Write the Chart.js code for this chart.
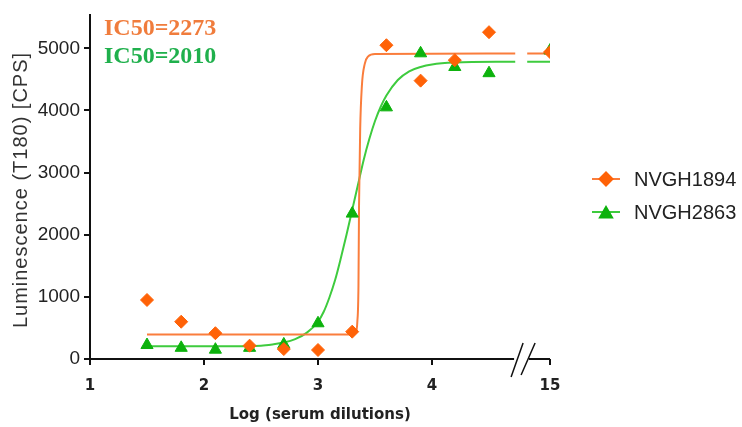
<!DOCTYPE html>
<html>
<head>
<meta charset="utf-8">
<script src="https://cdn.jsdelivr.net/npm/chart.js@4/dist/chart.umd.min.js"></script>
<style>
  html, body { margin: 0; padding: 0; background: #fff; }
  #myChart { display: block; }
</style>
</head>
<body>
<canvas id="myChart" width="742" height="427"></canvas>
<script>
// measured points, x = log(serum dilution); the last one sits past the axis break
var dilutions = [1.5, 1.8, 2.1, 2.4, 2.7, 3.0, 3.3, 3.6, 3.9, 4.2, 4.5, 15];
var nvgh1894 = [950, 600, 415, 215, 160, 145, 440, 5050, 4480, 4810, 5260, 4940];
var nvgh2863 = [225, 180, 150, 180, 235, 575, 2340, 4050, 4920, 4700, 4600, 4965];

// fitted curves (null = axis break)
var fit1894X = [1.5, 3.30, 3.33, 3.345, 3.355, 3.36, 3.37, 3.385, 3.41, 3.44, 3.5, 4.73, 4.78, 14.8, 15];
var fit1894Y = [395, 395, 420, 600, 1200, 2500, 3700, 4400, 4750, 4870, 4910, 4915, null, 4915, 4915];
var fit2863X = [1.5, 2.2, 2.5, 2.6, 2.7, 2.8, 2.9, 3.0, 3.05, 3.1, 3.15, 3.2, 3.25, 3.3, 3.35, 3.4, 3.45,
                3.5, 3.55, 3.6, 3.7, 3.8, 3.9, 4.0, 4.2, 4.73, 4.78, 14.8, 15];
var fit2863Y = [205, 205, 215, 235, 265, 320, 420, 600, 760, 990, 1270, 1620, 2000, 2400, 2800, 3200, 3540,
                3830, 4060, 4240, 4490, 4630, 4700, 4740, 4770, 4785, null, 4785, 4785];

var xTickLabels = ['1', '2', '3', '4', '15'];
var yTicks = [0, 1000, 2000, 3000, 4000, 5000];
var ic50Labels = ['IC50=2273', 'IC50=2010'];
var seriesNames = ['NVGH1894', 'NVGH2863'];

// broken x axis: values past the break are drawn on a short stub ending at 15
var BREAK_END = 5.035;
function toAxis(v) {
    return v > 5 ? BREAK_END - (15 - v) : v;
}
function pts(xs, ys) {
    return xs.map(function (x, i) { return { x: toAxis(x), y: ys[i] }; });
}

var orangeLine = '#fa7d3c', orangeMark = '#ff6207';
var greenLine = '#3ecb3e', greenMark = '#0db20d';

var breakPlugin = {
    id: 'extras',
    afterDraw: function (chart) {
        var ctx = chart.ctx, xs = chart.scales.x, ys = chart.scales.y;
        var y0 = ys.getPixelForValue(0);
        var a = xs.getPixelForValue(4.72), b = xs.getPixelForValue(4.85);
        ctx.save();
        ctx.strokeStyle = '#111';
        ctx.lineWidth = 2;
        ctx.beginPath();
        ctx.moveTo(chart.chartArea.left, y0);
        ctx.lineTo(a, y0);
        ctx.moveTo(b, y0);
        ctx.lineTo(chart.chartArea.right, y0);
        ctx.stroke();
        ctx.lineWidth = 1.5;
        ctx.beginPath();
        ctx.moveTo(a - 3, y0 + 18);
        ctx.lineTo(a + 9, y0 - 16);
        ctx.moveTo(a + 7, y0 + 16);
        ctx.lineTo(a + 21, y0 - 16);
        ctx.stroke();

        // IC50 annotations
        ctx.font = 'bold 24px "Liberation Serif"';
        ctx.textBaseline = 'middle';
        ctx.textAlign = 'left';
        ctx.fillStyle = '#f07c3c';
        ctx.fillText(ic50Labels[0], chart.chartArea.left + 14, 29);
        ctx.fillStyle = '#1fb04c';
        ctx.fillText(ic50Labels[1], chart.chartArea.left + 14, 57);

        // y title
        ctx.save();
        ctx.translate(21, 190);
        ctx.rotate(-Math.PI / 2);
        ctx.font = '20px "Liberation Sans"';
        ctx.letterSpacing = '1px';
        ctx.fillStyle = '#333';
        ctx.textAlign = 'center';
        ctx.fillText('Luminescence (T180) [CPS]', 0, 0);
        ctx.restore();

        // legend
        var lx = chart.chartArea.right + 42;
        var cols = [[orangeLine, orangeMark, 'rectRot', 6.5], [greenLine, greenMark, 'triangle', 7]];
        for (var i = 0; i < 2; i++) {
            var ly = 179 + i * 33;
            ctx.strokeStyle = cols[i][0];
            ctx.lineWidth = 2;
            ctx.beginPath();
            ctx.moveTo(lx, ly);
            ctx.lineTo(lx + 28, ly);
            ctx.stroke();
            ctx.fillStyle = cols[i][1];
            ctx.strokeStyle = cols[i][1];
            Chart.helpers.drawPoint(ctx, { pointStyle: cols[i][2], radius: cols[i][3], rotation: 0, borderWidth: 1 }, lx + 14, ly + (i ? 2 : 0));
            ctx.fillStyle = '#222';
            ctx.font = '20px "Liberation Sans"';
            ctx.textAlign = 'left';
            ctx.fillText(seriesNames[i], lx + 42, ly + 1);
        }
        ctx.restore();
    }
};

var ctx = document.getElementById('myChart').getContext('2d');

var myChart = new Chart(ctx, {
    type: 'scatter',
    data: {
        datasets: [{
            label: seriesNames[0],
            data: pts(dilutions, nvgh1894),
            pointStyle: 'rectRot',
            pointRadius: 6.5,
            backgroundColor: orangeMark,
            borderColor: orangeMark,
            borderWidth: 1,
            showLine: false
        }, {
            label: seriesNames[1],
            data: pts(dilutions, nvgh2863),
            pointStyle: 'triangle',
            pointRadius: 7,
            backgroundColor: greenMark,
            borderColor: greenMark,
            borderWidth: 1,
            showLine: false
        }, {
            label: 'fit 1894',
            data: pts(fit1894X, fit1894Y),
            showLine: true,
            pointRadius: 0,
            borderColor: orangeLine,
            borderWidth: 2,
            cubicInterpolationMode: 'monotone',
            spanGaps: false,
            order: 3
        }, {
            label: 'fit 2863',
            data: pts(fit2863X, fit2863Y),
            showLine: true,
            pointRadius: 0,
            borderColor: greenLine,
            borderWidth: 2,
            cubicInterpolationMode: 'monotone',
            spanGaps: false,
            order: 3
        }]
    },
    options: {
        responsive: false,
        animation: false,
        layout: { padding: { top: 15, right: 192, left: 0, bottom: 0 } },
        plugins: { legend: { display: false }, tooltip: { enabled: false } },
        scales: {
            x: {
                type: 'linear',
                min: 1,
                max: BREAK_END,
                afterBuildTicks: function (scale) {
                    scale.ticks = [1, 2, 3, 4, BREAK_END].map(function (v) { return { value: v }; });
                },
                afterFit: function (scale) { scale.height = 68; },
                grid: { drawOnChartArea: false, drawTicks: true, tickLength: 6, color: '#111', lineWidth: 2 },
                border: { display: false },
                ticks: {
                    autoSkip: false,
                    maxRotation: 0,
                    padding: 12,
                    color: '#222',
                    font: { family: 'DejaVu Sans', weight: 'bold', size: 15 },
                    callback: function (v, i) { return xTickLabels[i]; }
                },
                title: {
                    display: true,
                    text: 'Log (serum dilutions)',
                    color: '#222',
                    font: { family: 'DejaVu Sans', weight: 'bold', size: 15 },
                    padding: { top: 8, bottom: 3 }
                }
            },
            y: {
                min: 0,
                max: 5530,
                afterBuildTicks: function (scale) {
                    scale.ticks = yTicks.map(function (v) { return { value: v }; });
                },
                afterFit: function (scale) { scale.width = 90; },
                grid: { drawOnChartArea: false, drawTicks: true, tickLength: 6, color: '#111', lineWidth: 2 },
                border: { display: true, color: '#111', width: 2 },
                ticks: {
                    padding: 4,
                    color: '#222',
                    font: { family: 'Liberation Sans', size: 19 },
                    callback: function (v) { return String(v); }
                }
            }
        }
    },
    plugins: [breakPlugin]
});
</script>
</body>
</html>
